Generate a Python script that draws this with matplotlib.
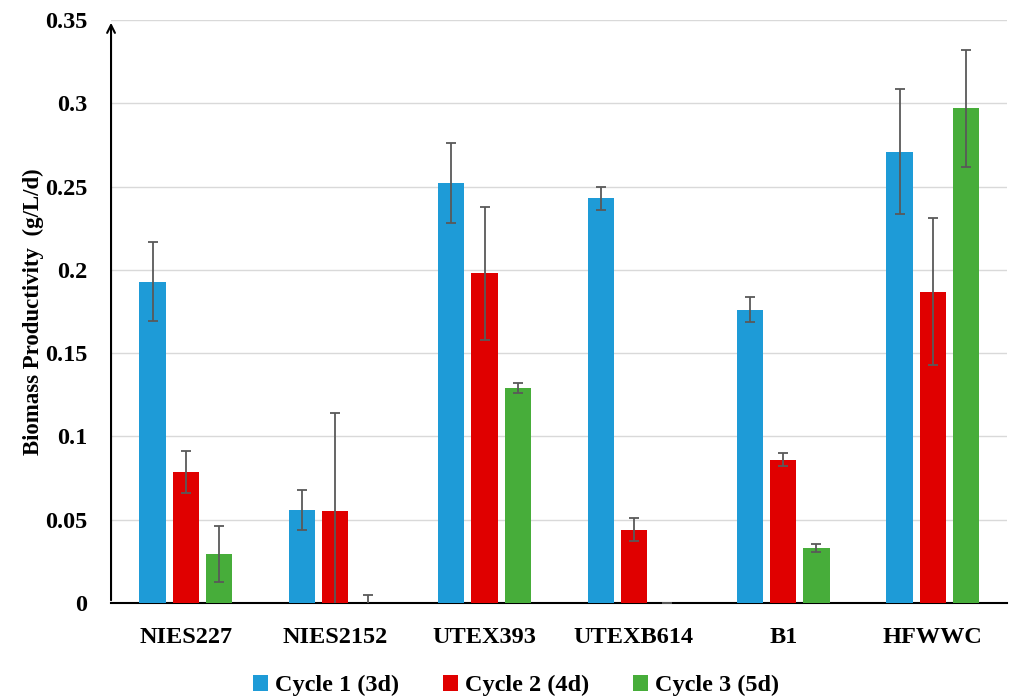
import numpy as np
import matplotlib.pyplot as plt

plt.rcParams['font.family'] = ['Liberation Serif', 'DejaVu Serif']
plt.rcParams['font.weight'] = 'bold'
plt.rcParams['axes.labelweight'] = 'bold'

strains = ['NIES227', 'NIES2152', 'UTEX393', 'UTEXB614', 'B1', 'HFWWC']
series = ['Cycle 1 (3d)', 'Cycle 2 (4d)', 'Cycle 3 (5d)']
cycle1 = [0.193, 0.056, 0.252, 0.243, 0.176, 0.271]
cycle2 = [0.0785, 0.055, 0.198, 0.044, 0.086, 0.187]
cycle3 = [0.0295, 0.0, 0.129, 0.0, 0.033, 0.297]
err1 = [0.024, 0.012, 0.024, 0.007, 0.0075, 0.0375]
err2 = [0.0126, 0.059, 0.040, 0.0068, 0.004, 0.044]
err3 = [0.017, 0.005, 0.003, 0.0, 0.0025, 0.035]
colors = ['#1E9BD7', '#E00000', '#47AD3A']

fig = plt.figure(figsize=(10.14, 6.97), dpi=100)
ax = fig.add_axes([0.1095, 0.1349, 0.884, 0.8364])

x = np.arange(len(strains))
width = 0.175
step = 0.222
for i, (vals, errs) in enumerate(zip([cycle1, cycle2, cycle3], [err1, err2, err3])):
    ax.bar(x + (i - 1) * step, vals, width, color=colors[i], label=series[i],
           yerr=errs, error_kw=dict(ecolor='#595959', elinewidth=1.3, capsize=3.5, capthick=1.3),
           zorder=3)

ax.set_xlim(-0.5, 5.5)
ax.set_ylim(0, 0.35)
ax.set_yticks(np.arange(0, 0.351, 0.05))
ax.set_yticklabels(['0', '0.05', '0.1', '0.15', '0.2', '0.25', '0.3', '0.35'])
ax.set_xticks(x)
ax.set_xticklabels(strains)
ax.tick_params(axis='both', length=0, labelsize=17.5)
ax.tick_params(axis='x', pad=17)
ax.tick_params(axis='y', pad=17)
ax.yaxis.grid(True, color='#D9D9D9', linewidth=1, zorder=0)
ax.set_axisbelow(True)
for s in ['top', 'right', 'left']:
    ax.spines[s].set_visible(False)
ax.spines['bottom'].set_linewidth(1.5)
ax.annotate('', xy=(0, 1.0), xytext=(0, 0), xycoords='axes fraction',
            arrowprops=dict(arrowstyle='->', color='black', lw=1.5, mutation_scale=14))

ax.set_ylabel('Biomass Productivity  (g/L/d)', fontsize=16.5, labelpad=1)

ax.legend(loc='upper center', bbox_to_anchor=(0.452, -0.107), ncol=3, frameon=False,
          fontsize=17.5, handlelength=0.6, handleheight=0.6, handletextpad=0.3,
          columnspacing=1.8, borderaxespad=0)

fig.savefig('out.png', dpi=100)
